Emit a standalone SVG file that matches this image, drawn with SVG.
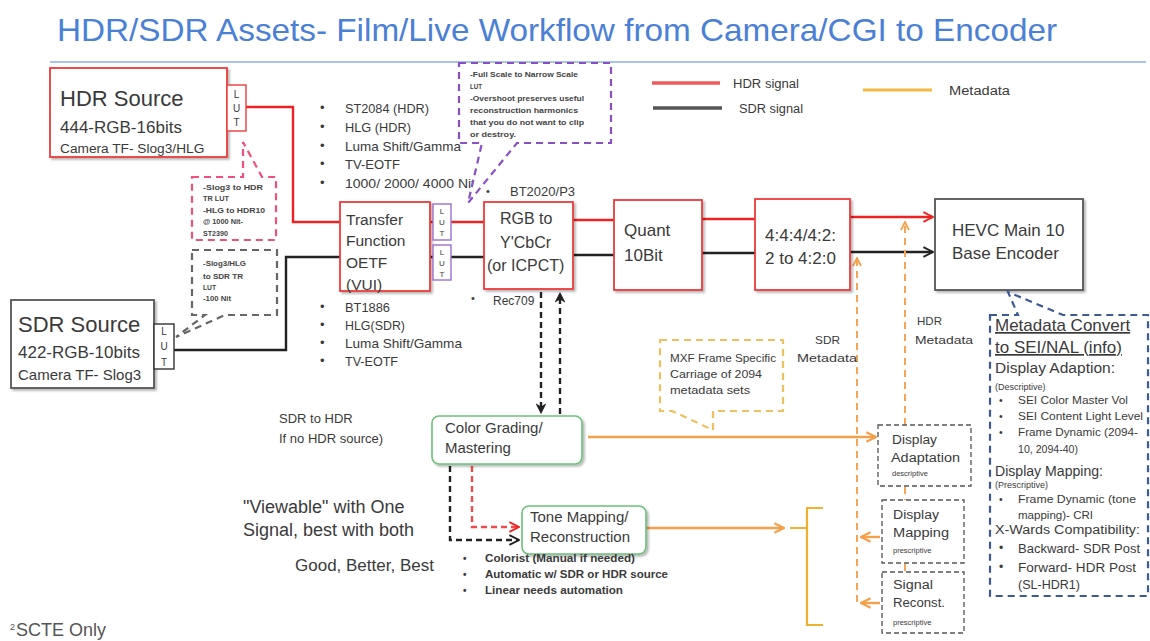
<svg xmlns="http://www.w3.org/2000/svg" width="1150" height="641" viewBox="0 0 1150 641">
  <style>
    text { font-family: "Liberation Sans", Arial, sans-serif; fill: #3a3a3a; }
    .box { fill: #fff; stroke: #ee3b3b; stroke-width: 1.8; }
    .gbox { fill: #fff; stroke: #555; stroke-width: 1.8; }
    .green { fill: #fff; stroke: #6cc07a; stroke-width: 1.6; }
    .lut { fill: #fff; stroke: #ee3b3b; stroke-width: 1.4; }
    .lutp { fill: #fff; stroke: #9b6fd0; stroke-width: 1.4; }
    .lutk { fill: #fff; stroke: #333; stroke-width: 1.4; }
    .hdr { fill: none; stroke: #ee2222; stroke-width: 2.4; }
    .sdr { fill: none; stroke: #222; stroke-width: 2.4; }
    .meta { fill: none; stroke: #f5a04a; stroke-width: 2.4; }
    .metad { fill: none; stroke: #f5a55a; stroke-width: 2; stroke-dasharray: 7 5; }
    .dk { fill: none; stroke: #222; stroke-width: 2.4; stroke-dasharray: 6 4; }
    .dr { fill: none; stroke: #f04a4a; stroke-width: 2.4; stroke-dasharray: 6 4; }
    .disp { fill: #fff; stroke: #555; stroke-width: 1.3; stroke-dasharray: 5 3; }
    .call { fill: #fff; stroke-width: 2.2; stroke-dasharray: 7 5; }
    .small { font-size: 8px; font-weight: bold; fill: #444; }
    .lutt { font-size: 10px; text-anchor: middle; }
    .lutpt { font-size: 8px; text-anchor: middle; }
  </style>
  <defs>
    <filter id="sh" x="-10%" y="-10%" width="130%" height="130%">
      <feDropShadow dx="2" dy="2" stdDeviation="1.2" flood-color="#000" flood-opacity="0.28"/>
    </filter>
    <marker id="aRed" viewBox="0 0 10 10" refX="9" refY="5" markerWidth="5" markerHeight="5" orient="auto" markerUnits="strokeWidth">
      <polyline points="1,1 9,5 1,9" fill="none" stroke="#ee2222" stroke-width="1.6"/>
    </marker>
    <marker id="aBlk" viewBox="0 0 10 10" refX="9" refY="5" markerWidth="5" markerHeight="5" orient="auto" markerUnits="strokeWidth">
      <polyline points="1,1 9,5 1,9" fill="none" stroke="#222" stroke-width="1.6"/>
    </marker>
    <marker id="aBlkF" viewBox="0 0 10 10" refX="8" refY="5" markerWidth="4.5" markerHeight="4.5" orient="auto" markerUnits="strokeWidth">
      <path d="M0,0 L10,5 L0,10 L3,5 Z" fill="#222"/>
    </marker>
    <marker id="aOr" viewBox="0 0 10 10" refX="9" refY="5" markerWidth="5" markerHeight="5" orient="auto" markerUnits="strokeWidth">
      <polyline points="1,1 9,5 1,9" fill="none" stroke="#f5a04a" stroke-width="1.8"/>
    </marker>
  </defs>

  <rect width="1150" height="641" fill="#fff"/>

  <!-- heading -->
  <text x="57" y="41" font-size="32" style="fill:#4a80d6" textLength="1000" lengthAdjust="spacingAndGlyphs">HDR/SDR Assets- Film/Live Workflow from Camera/CGI to Encoder</text>
  <line x1="50" y1="62" x2="1146" y2="62" stroke="#a9c4ea" stroke-width="2"/>

  <!-- legend -->
  <g id="legend">
    <line x1="652" y1="83" x2="720" y2="83" stroke="#f05a5a" stroke-width="3.5"/>
    <text x="733" y="88" font-size="12" textLength="66" lengthAdjust="spacingAndGlyphs">HDR signal</text>
    <line x1="653" y1="108" x2="722" y2="108" stroke="#555" stroke-width="3.5"/>
    <text x="739" y="113" font-size="12" textLength="64" lengthAdjust="spacingAndGlyphs">SDR signal</text>
    <line x1="863" y1="90" x2="932" y2="90" stroke="#f4b942" stroke-width="3"/>
    <text x="949" y="95" font-size="12" textLength="61" lengthAdjust="spacingAndGlyphs">Metadata</text>
  </g>

  <!-- connectors -->
  <g id="connectors">
    <!-- HDR path -->
    <polyline class="hdr" points="246,107 293,107 293,222 340,222"/>
    <line class="hdr" x1="430" y1="222" x2="484" y2="222"/>
    <line class="hdr" x1="573" y1="220" x2="614" y2="220"/>
    <line class="hdr" x1="702" y1="219" x2="755" y2="219"/>
    <line class="hdr" x1="850" y1="217" x2="933" y2="217" marker-end="url(#aRed)"/>
    <!-- SDR path -->
    <polyline class="sdr" points="174,350 286,350 286,257 340,257"/>
    <line class="sdr" x1="430" y1="257" x2="484" y2="257"/>
    <line class="sdr" x1="573" y1="255" x2="614" y2="255"/>
    <line class="sdr" x1="702" y1="253" x2="755" y2="253"/>
    <line class="sdr" x1="850" y1="252" x2="933" y2="252" marker-end="url(#aBlk)"/>
    <!-- RGB to / from grading -->
    <line class="dk" x1="541" y1="292" x2="541" y2="412" marker-end="url(#aBlkF)"/>
    <line class="dk" x1="560" y1="414" x2="560" y2="294" marker-end="url(#aBlkF)"/>
    <!-- grading to tone mapping -->
    <polyline class="dk" points="450,466 450,540 519,540" marker-end="url(#aBlk)"/>
    <polyline class="dr" points="472,466 472,527 519,527" marker-end="url(#aRed)"/>
    <!-- metadata -->
    <line class="meta" x1="588" y1="437" x2="876" y2="437" marker-end="url(#aOr)"/>
    <line class="meta" x1="646" y1="528" x2="784" y2="528" marker-end="url(#aOr)"/>
    <polyline class="metad" points="857,602 857,258" marker-end="url(#aOr)"/>
    <polyline class="metad" points="905,425 905,222" marker-end="url(#aOr)"/>
    <line class="metad" x1="905" y1="487" x2="905" y2="500"/>
    <line class="metad" x1="905" y1="564" x2="905" y2="572"/>
    <line class="meta" x1="880" y1="537" x2="861" y2="537" marker-end="url(#aOr)"/>
    <line class="meta" x1="880" y1="603" x2="861" y2="603" marker-end="url(#aOr)"/>
    <!-- bracket -->
    <path d="M823,508 H807 V528 H790 M807,528 V625 H823" fill="none" stroke="#f0b030" stroke-width="2.2"/>
  </g>

  <!-- sources -->
  <g id="hdr-source">
    <rect class="box" x="50" y="68" width="177" height="89" filter="url(#sh)"/>
    <text x="60" y="106" font-size="22">HDR Source</text>
    <text x="60" y="133" font-size="17">444-RGB-16bits</text>
    <text x="60" y="153" font-size="13.7">Camera TF- Slog3/HLG</text>
  </g>
  <g id="hdr-lut">
    <rect class="lut" x="227" y="85" width="19" height="46"/>
    <text class="lutt" x="236.5" y="98">L</text>
    <text class="lutt" x="236.5" y="112">U</text>
    <text class="lutt" x="236.5" y="126">T</text>
  </g>
  <g id="sdr-source">
    <rect class="gbox" x="11" y="300" width="143" height="88" filter="url(#sh)"/>
    <text x="18" y="332" font-size="22">SDR Source</text>
    <text x="18" y="358" font-size="17">422-RGB-10bits</text>
    <text x="18" y="380" font-size="15">Camera TF- Slog3</text>
  </g>
  <g id="sdr-lut">
    <rect class="lutk" x="154" y="324" width="20" height="45"/>
    <text class="lutt" x="164" y="335">L</text>
    <text class="lutt" x="164" y="350">U</text>
    <text class="lutt" x="164" y="366">T</text>
  </g>

  <!-- LUT notes -->
  <g id="hdr-lut-note">
    <path class="call" stroke="#f0507a" d="M192,177 H243 V142 L262,177 H276 V240 H192 Z"/>
    <text class="small" x="203" y="190" textLength="60" lengthAdjust="spacingAndGlyphs">-Slog3 to HDR</text>
    <text class="small" x="203" y="201" textLength="26" lengthAdjust="spacingAndGlyphs">TR LUT</text>
    <text class="small" x="203" y="213" textLength="62" lengthAdjust="spacingAndGlyphs">-HLG to HDR10</text>
    <text class="small" x="203" y="224" textLength="40" lengthAdjust="spacingAndGlyphs">@ 1000 Nit-</text>
    <text class="small" x="203" y="236" textLength="25" lengthAdjust="spacingAndGlyphs">ST2390</text>
  </g>
  <g id="sdr-lut-note">
    <path class="call" stroke="#666" d="M192,250 H277 V315 H225 L176,337 L205,315 H192 Z"/>
    <text class="small" x="203" y="266" textLength="43" lengthAdjust="spacingAndGlyphs">-Slog3/HLG</text>
    <text class="small" x="203" y="279" textLength="40" lengthAdjust="spacingAndGlyphs">to SDR TR</text>
    <text class="small" x="203" y="290" textLength="13" lengthAdjust="spacingAndGlyphs">LUT</text>
    <text class="small" x="203" y="301" textLength="28" lengthAdjust="spacingAndGlyphs">-100 Nit</text>
  </g>

  <!-- transfer function lists -->
  <g id="tf-list-hdr" font-size="13">
    <text x="320" y="112">•</text><text x="345" y="113" textLength="84" lengthAdjust="spacingAndGlyphs">ST2084 (HDR)</text>
    <text x="320" y="131">•</text><text x="345" y="132" textLength="66" lengthAdjust="spacingAndGlyphs">HLG (HDR)</text>
    <text x="320" y="150">•</text><text x="345" y="151" textLength="116" lengthAdjust="spacingAndGlyphs">Luma Shift/Gamma</text>
    <text x="320" y="168">•</text><text x="345" y="169" textLength="55" lengthAdjust="spacingAndGlyphs">TV-EOTF</text>
    <text x="320" y="187">•</text><text x="345" y="188" textLength="130" lengthAdjust="spacingAndGlyphs">1000/ 2000/ 4000 Nit</text>
  </g>
  <g id="tf-list-sdr" font-size="13">
    <text x="320" y="311">•</text><text x="345" y="312" textLength="45" lengthAdjust="spacingAndGlyphs">BT1886</text>
    <text x="320" y="329">•</text><text x="345" y="330" textLength="60" lengthAdjust="spacingAndGlyphs">HLG(SDR)</text>
    <text x="320" y="347">•</text><text x="345" y="348" textLength="117" lengthAdjust="spacingAndGlyphs">Luma Shift/Gamma</text>
    <text x="320" y="365">•</text><text x="345" y="366" textLength="53" lengthAdjust="spacingAndGlyphs">TV-EOTF</text>
  </g>

  <!-- transfer function -->
  <g id="transfer-function">
    <rect class="box" x="340" y="202" width="90" height="89" filter="url(#sh)"/>
    <text x="346" y="225" font-size="15.5">Transfer</text>
    <text x="346" y="246" font-size="15.5">Function</text>
    <text x="346" y="268" font-size="15.5">OETF</text>
    <text x="346" y="290" font-size="15.5">(VUI)</text>
  </g>
  <g id="tf-luts">
    <rect class="lutp" x="433" y="204" width="18" height="36"/>
    <text class="lutpt" x="442" y="214">L</text>
    <text class="lutpt" x="442" y="225">U</text>
    <text class="lutpt" x="442" y="236">T</text>
    <rect class="lutp" x="433" y="245" width="18" height="35"/>
    <text class="lutpt" x="442" y="255">L</text>
    <text class="lutpt" x="442" y="266">U</text>
    <text class="lutpt" x="442" y="277">T</text>
  </g>
  <g id="range-note">
    <path class="call" stroke="#8a4fc7" d="M459,63 H611 V143 H517 L468,203 L482,143 H459 Z"/>
    <text class="small" x="470" y="77" textLength="108" lengthAdjust="spacingAndGlyphs">-Full Scale to Narrow Scale</text>
    <text class="small" x="470" y="89" textLength="12" lengthAdjust="spacingAndGlyphs">LUT</text>
    <text class="small" x="470" y="101" textLength="114" lengthAdjust="spacingAndGlyphs">-Overshoot preserves useful</text>
    <text class="small" x="470" y="113" textLength="108" lengthAdjust="spacingAndGlyphs">reconstruction harmonics</text>
    <text class="small" x="470" y="125" textLength="114" lengthAdjust="spacingAndGlyphs">that you do not want to clip</text>
    <text class="small" x="470" y="137" textLength="46" lengthAdjust="spacingAndGlyphs">or destroy.</text>
  </g>

  <!-- colour conversion -->
  <g id="rgb-to-ycbcr">
    <text x="486" y="195" font-size="11">•</text>
    <text x="510" y="196" font-size="13">BT2020/P3</text>
    <rect class="box" x="484" y="202" width="89" height="87" filter="url(#sh)"/>
    <text x="500" y="224" font-size="16">RGB to</text>
    <text x="500" y="248" font-size="16">Y'CbCr</text>
    <text x="487" y="271" font-size="16">(or ICPCT)</text>
    <text x="471" y="302" font-size="11">•</text>
    <text x="493" y="305" font-size="12">Rec709</text>
  </g>
  <g id="quant">
    <rect class="box" x="614" y="200" width="88" height="90" filter="url(#sh)"/>
    <text x="624" y="236" font-size="17">Quant</text>
    <text x="624" y="261" font-size="17">10Bit</text>
  </g>
  <g id="chroma">
    <rect class="box" x="755" y="199" width="95" height="91" filter="url(#sh)"/>
    <text x="765" y="241" font-size="17">4:4:4/4:2:</text>
    <text x="765" y="264" font-size="17">2 to 4:2:0</text>
  </g>
  <g id="hevc-encoder">
    <rect class="gbox" x="935" y="199" width="148" height="91" filter="url(#sh)"/>
    <text x="952" y="236" font-size="17">HEVC Main 10</text>
    <text x="952" y="259" font-size="17">Base Encoder</text>
  </g>

  <!-- grading and tone mapping -->
  <g id="sdr-to-hdr-note" font-size="13">
    <text x="279" y="423">SDR to HDR</text>
    <text x="279" y="443">If no HDR source)</text>
  </g>
  <g id="color-grading">
    <rect class="green" x="432" y="416" width="150" height="48" rx="7" filter="url(#sh)"/>
    <text x="445" y="433" font-size="15">Color Grading/</text>
    <text x="445" y="453" font-size="15">Mastering</text>
  </g>
  <g id="tone-mapping">
    <rect class="green" x="522" y="506" width="124" height="48" rx="7" filter="url(#sh)"/>
    <text x="530" y="522" font-size="15">Tone Mapping/</text>
    <text x="530" y="542" font-size="15">Reconstruction</text>
  </g>
  <g id="viewable-note">
    <text x="243" y="513" font-size="18">"Viewable" with One</text>
    <text x="243" y="536" font-size="18">Signal, best with both</text>
    <text x="295" y="571" font-size="17">Good, Better, Best</text>
  </g>
  <g id="tone-mapping-list" font-size="10" font-weight="bold">
    <text x="463" y="562">•</text><text x="485" y="562" textLength="150" lengthAdjust="spacingAndGlyphs">Colorist (Manual if needed)</text>
    <text x="463" y="578">•</text><text x="485" y="578" textLength="183" lengthAdjust="spacingAndGlyphs">Automatic w/ SDR or HDR source</text>
    <text x="463" y="594">•</text><text x="485" y="594" textLength="138" lengthAdjust="spacingAndGlyphs">Linear needs automation</text>
  </g>

  <!-- metadata -->
  <g id="mxf-note">
    <path class="call" stroke="#f0c060" d="M660,340 H783 V411 H713 V430 L672,411 H660 Z"/>
    <text x="670" y="362" font-size="11" textLength="106" lengthAdjust="spacingAndGlyphs">MXF Frame Specific</text>
    <text x="670" y="378" font-size="11" textLength="92" lengthAdjust="spacingAndGlyphs">Carriage of 2094</text>
    <text x="670" y="394" font-size="11" textLength="80" lengthAdjust="spacingAndGlyphs">metadata sets</text>
  </g>
  <g id="sdr-metadata-label" font-size="11.5">
    <text x="815" y="344" textLength="25" lengthAdjust="spacingAndGlyphs">SDR</text>
    <text x="797" y="362" textLength="60" lengthAdjust="spacingAndGlyphs">Metadata</text>
  </g>
  <g id="hdr-metadata-label" font-size="11.5">
    <text x="917" y="325" textLength="25" lengthAdjust="spacingAndGlyphs">HDR</text>
    <text x="915" y="344" textLength="58" lengthAdjust="spacingAndGlyphs">Metadata</text>
  </g>
  <g id="display-adaptation">
    <rect class="disp" x="878" y="425" width="93" height="61"/>
    <text x="892" y="444" font-size="12" textLength="45" lengthAdjust="spacingAndGlyphs">Display</text>
    <text x="891" y="462" font-size="12" textLength="69" lengthAdjust="spacingAndGlyphs">Adaptation</text>
    <text x="892" y="476" font-size="7.5">descriptive</text>
  </g>
  <g id="display-mapping">
    <rect class="disp" x="882" y="500" width="82" height="63"/>
    <text x="893" y="519" font-size="12" textLength="46" lengthAdjust="spacingAndGlyphs">Display</text>
    <text x="893" y="537" font-size="12" textLength="56" lengthAdjust="spacingAndGlyphs">Mapping</text>
    <text x="893" y="553" font-size="7.5">prescriptive</text>
  </g>
  <g id="signal-reconst">
    <rect class="disp" x="882" y="572" width="82" height="61"/>
    <text x="893" y="589" font-size="12" textLength="40" lengthAdjust="spacingAndGlyphs">Signal</text>
    <text x="893" y="607" font-size="12" textLength="52" lengthAdjust="spacingAndGlyphs">Reconst.</text>
    <text x="893" y="625" font-size="7.5">prescriptive</text>
  </g>

  <!-- SEI/NAL conversion notes -->
  <g id="metadata-convert">
    <path class="call" stroke="#3d5a96" d="M990,315 H1018 L1008,292 L1063,315 H1148 V596 H990 Z"/>
    <text x="995" y="331" font-size="17" text-decoration="underline">Metadata Convert</text>
    <text x="995" y="353" font-size="17" text-decoration="underline">to SEI/NAL (info)</text>
    <text x="995" y="373" font-size="14" textLength="120" lengthAdjust="spacingAndGlyphs">Display Adaption:</text>
    <text x="995" y="390" font-size="9">(Descriptive)</text>
    <g font-size="10.5">
      <text x="999" y="404">•</text><text x="1018" y="404" textLength="110" lengthAdjust="spacingAndGlyphs">SEI Color Master Vol</text>
      <text x="999" y="420">•</text><text x="1018" y="420" textLength="125" lengthAdjust="spacingAndGlyphs">SEI Content Light Level</text>
      <text x="999" y="436">•</text><text x="1018" y="436" textLength="120" lengthAdjust="spacingAndGlyphs">Frame Dynamic (2094-</text>
      <text x="1018" y="453" textLength="60" lengthAdjust="spacingAndGlyphs">10, 2094-40)</text>
    </g>
    <text x="995" y="476" font-size="14" textLength="108" lengthAdjust="spacingAndGlyphs">Display Mapping:</text>
    <text x="995" y="488" font-size="9">(Prescriptive)</text>
    <g font-size="10.5">
      <text x="999" y="503">•</text><text x="1018" y="503" textLength="118" lengthAdjust="spacingAndGlyphs">Frame Dynamic (tone</text>
      <text x="1018" y="519" textLength="75" lengthAdjust="spacingAndGlyphs">mapping)- CRI</text>
    </g>
    <text x="995" y="534" font-size="12.5" textLength="145" lengthAdjust="spacingAndGlyphs">X-Wards Compatibility:</text>
    <g font-size="12">
      <text x="999" y="552">•</text><text x="1018" y="553" textLength="122" lengthAdjust="spacingAndGlyphs">Backward- SDR Post</text>
      <text x="999" y="571">•</text><text x="1018" y="572" textLength="118" lengthAdjust="spacingAndGlyphs">Forward- HDR Post</text>
      <text x="1018" y="589" textLength="62" lengthAdjust="spacingAndGlyphs">(SL-HDR1)</text>
    </g>
  </g>

  <!-- footnote -->
  <text x="10" y="630" font-size="9" style="fill:#555">2</text>
  <text x="16" y="636" font-size="18" style="fill:#555">SCTE Only</text>
</svg>
